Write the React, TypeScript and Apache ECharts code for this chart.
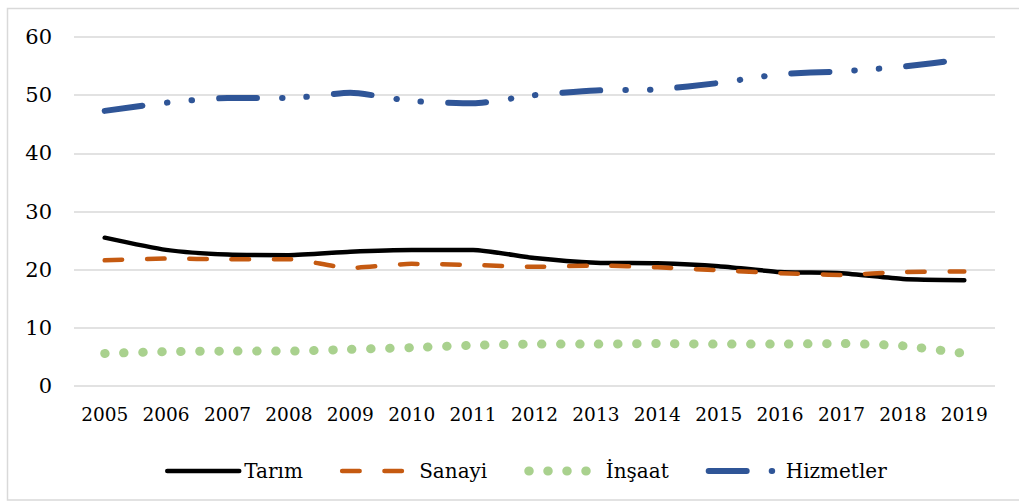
import React, { useEffect, useRef } from "react";
import * as echarts from "echarts";

const years = ["2005","2006","2007","2008","2009","2010","2011","2012","2013","2014","2015","2016","2017","2018","2019"];
const tarim = [25.5, 23.4, 22.6, 22.5, 23.1, 23.4, 23.4, 22.0, 21.2, 21.1, 20.6, 19.6, 19.4, 18.4, 18.2];
const sanayi = [21.6, 21.9, 21.8, 21.8, 20.3, 21.0, 20.8, 20.5, 20.7, 20.4, 19.9, 19.4, 19.1, 19.6, 19.7];
const insaat = [5.6, 5.9, 6.0, 6.0, 6.3, 6.6, 7.0, 7.2, 7.2, 7.3, 7.2, 7.2, 7.3, 6.9, 5.6];
const hizmetler = [47.3, 48.7, 49.5, 49.5, 50.4, 49.0, 48.6, 50.0, 50.8, 51.0, 52.1, 53.6, 54.1, 54.9, 56.2];
const seriesNames = ["Tarım", "Sanayi", "İnşaat", "Hizmetler"];

const FONT = "DejaVu Serif";

export default function App() {
  const ref = useRef<HTMLDivElement>(null);
  useEffect(() => {
    if (!ref.current) return;
    const chart = echarts.init(ref.current, undefined, { renderer: "svg" });
    const mk = (name: string, data: number[], color: string, width: number, type: any) => ({
      name,
      type: "line",
      data,
      symbol: "none",
      smooth: 0.2,
      lineStyle: { color, width, type, cap: "round", join: "round" },
      itemStyle: { color },
    });
    chart.setOption({
      animation: false,
      textStyle: { fontFamily: FONT },
      graphic: [
        {
          type: "rect",
          shape: { x: 7.5, y: 8.5, width: 1030, height: 491.5 },
          style: { fill: "none", stroke: "#d9d9d9", lineWidth: 1.5 },
          silent: true,
        },
      ],
      grid: { left: 74, top: 37, width: 921, height: 349, containLabel: false },
      xAxis: {
        type: "category",
        data: years,
        boundaryGap: true,
        axisLine: { show: false },
        axisTick: { show: false },
        axisLabel: { color: "#000", fontSize: 18.5, fontFamily: FONT, margin: 19, interval: 0 },
      },
      yAxis: {
        type: "value",
        min: 0,
        max: 60,
        interval: 10,
        axisLine: { show: false },
        axisTick: { show: false },
        axisLabel: { color: "#000", fontSize: 21, fontFamily: FONT, margin: 22 },
        splitLine: { lineStyle: { color: "#d9d9d9", width: 1.5 } },
      },
      legend: {
        data: seriesNames,
        left: 160,
        top: 456,
        itemWidth: 72,
        itemHeight: 14,
        itemGap: 37,
        itemStyle: { opacity: 0 },
        lineStyle: { width: "inherit", type: "inherit", cap: "round" },
        textStyle: { color: "#000", fontSize: 20, fontFamily: FONT },
      },
      series: [
        mk(seriesNames[0], tarim, "#000000", 4.5, "solid"),
        mk(seriesNames[1], sanayi, "#C55A11", 4.5, [17.5, 24.8]),
        mk(seriesNames[2], insaat, "#A9D18E", 9, [0.5, 18.5]),
        mk(seriesNames[3], hizmetler, "#2F5597", 6, [38, 25, 0.5, 24, 0.5, 27]),
      ],
    });
    return () => chart.dispose();
  }, []);
  return <div ref={ref} style={{ position: "absolute", left: 0, top: 0, width: 1019, height: 502 }} />;
}
